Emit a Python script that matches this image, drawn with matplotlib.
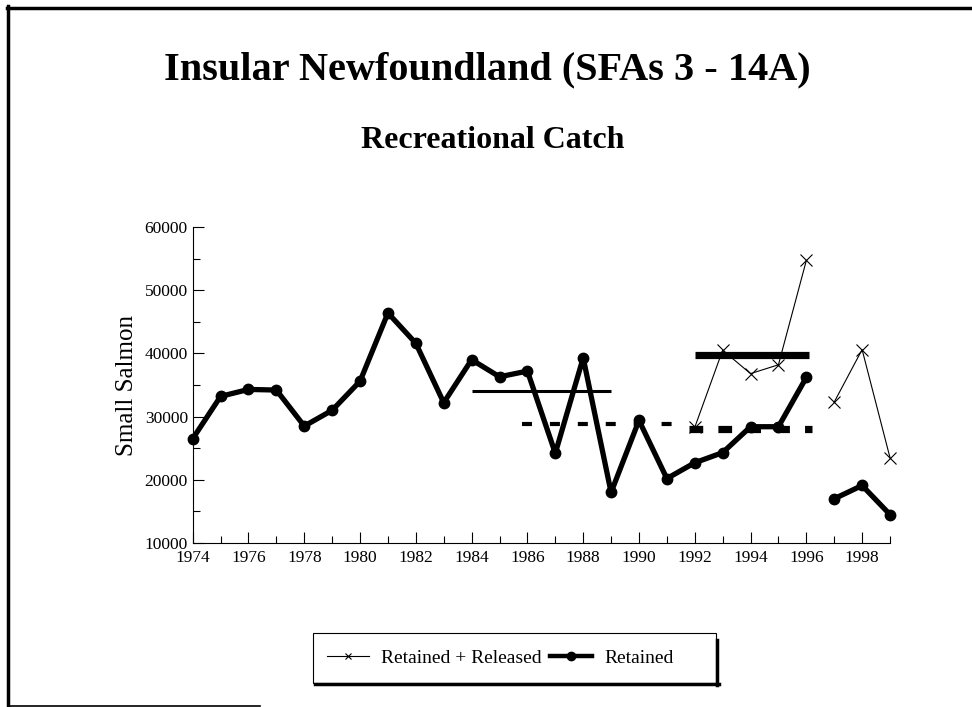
"""Insular Newfoundland small salmon recreational catch, 1974-1999."""

import matplotlib

matplotlib.use("Agg")
import matplotlib.pyplot as plt
from matplotlib.lines import Line2D
from matplotlib.patches import Rectangle
from matplotlib.ticker import MultipleLocator

years = list(range(1974, 2000))
retained = [26500, 33200, 34300, 34200, 28500, 31000, 35600, 46400, 41600,
            32200, 39000, 36300, 37200, 24200, 39300, 18000, 29400, 20200,
            22700, 24300, 28400, 28400, 36200, 17000, 19100, 14500]

rr_years = [1992, 1993, 1994, 1995, 1996, 1997, 1998, 1999]
retained_released = [28300, 40500, 36800, 38200, 54700, 32300, 40600, 23500]

# reference levels: (start year, end year, level)
ref_start = [1984, 1985.8, 1992, 1991.8]
ref_end = [1989, 1991.6, 1996.1, 1996.2]
ref_level = [34000, 28900, 39700, 28000]

plt.rcParams["font.family"] = ["Liberation Serif", "DejaVu Serif"]

W, H = 972, 707
fig = plt.figure(figsize=(W / 100, H / 100), dpi=100)
ax = fig.add_axes([192.7 / W, 1 - 543 / H, 697.3 / W, 316 / H])


def fx(px):
    return px / W


def fy(py):
    return 1 - py / H


# retained series broken between 1996 and 1997
split = years.index(1997)
for sl in (slice(0, split), slice(split, None)):
    ax.plot(years[sl], retained[sl], color="black", lw=3.8, marker="o",
            ms=7.5, solid_joinstyle="round", zorder=4, clip_on=False)

rr_split = rr_years.index(1997)
for sl in (slice(0, rr_split), slice(rr_split, None)):
    ax.plot(rr_years[sl], retained_released[sl], color="black", lw=0.8,
            marker="x", ms=8, mew=0.8, zorder=5, clip_on=False)

styles = [
    dict(lw=2.2, ls="-"),
    dict(lw=3.0, ls=(0, (2.4, 4.3))),
    dict(lw=5.2, ls="-"),
    dict(lw=5.2, ls=(0, (1.9, 2.1))),
]
for x0, x1, lev, st in zip(ref_start, ref_end, ref_level, styles):
    ax.plot([x0, x1], [lev, lev], color="black", solid_capstyle="butt",
            dash_capstyle="butt", zorder=3, **st)

ax.set_xlim(1974, 1999)
ax.set_ylim(10000, 60000)
ax.xaxis.set_major_locator(MultipleLocator(2))
ax.xaxis.set_minor_locator(MultipleLocator(1))
ax.yaxis.set_major_locator(MultipleLocator(10000))
ax.yaxis.set_minor_locator(MultipleLocator(5000))
ax.tick_params(which="both", direction="in", labelsize=12.5, width=0.8)
ax.tick_params(which="major", length=8)
ax.tick_params(which="minor", length=5)
ax.tick_params(axis="x", pad=5)
for side in ("top", "right"):
    ax.spines[side].set_visible(False)
for side in ("left", "bottom"):
    ax.spines[side].set_linewidth(0.8)
ax.set_ylabel("Small Salmon", fontsize=18, labelpad=5)

fig.text(fx(487), fy(70), "Insular Newfoundland (SFAs 3 - 14A)",
         ha="center", va="center", fontsize=29, fontweight="bold")
fig.text(fx(493), fy(140), "Recreational Catch",
         ha="center", va="center", fontsize=23, fontweight="bold")

# legend box with drop shadow
fig.add_artist(Rectangle((fx(313), fy(683)), fx(716 - 313), (683 - 633) / H,
                         fill=False, lw=0.8, ec="black"))
fig.add_artist(Line2D([fx(315), fx(719)], [fy(684), fy(684)], color="black",
                      lw=2.5))
fig.add_artist(Line2D([fx(717), fx(717)], [fy(640), fy(685)], color="black",
                      lw=2.5))
handles = [
    Line2D([], [], color="black", lw=0.8, marker="x", ms=5, mew=0.8),
    Line2D([], [], color="black", lw=3.2, marker="o", ms=6),
]
fig.legend(handles, ["Retained + Released", "Retained"], ncol=2,
           loc="center", bbox_to_anchor=(fx(500), fy(658)), frameon=False,
           fontsize=14, handlelength=2.2, columnspacing=0.4, handletextpad=0.6)

# outer page frame
fig.add_artist(Line2D([fx(7), fx(972)], [fy(8), fy(8)], color="black", lw=2.5))
fig.add_artist(Line2D([fx(8), fx(8)], [fy(6), fy(706)], color="black", lw=2.5))
fig.add_artist(Line2D([fx(8), fx(260)], [fy(705.5), fy(705.5)], color="black",
                      lw=1.2))

fig.savefig("out.png")
